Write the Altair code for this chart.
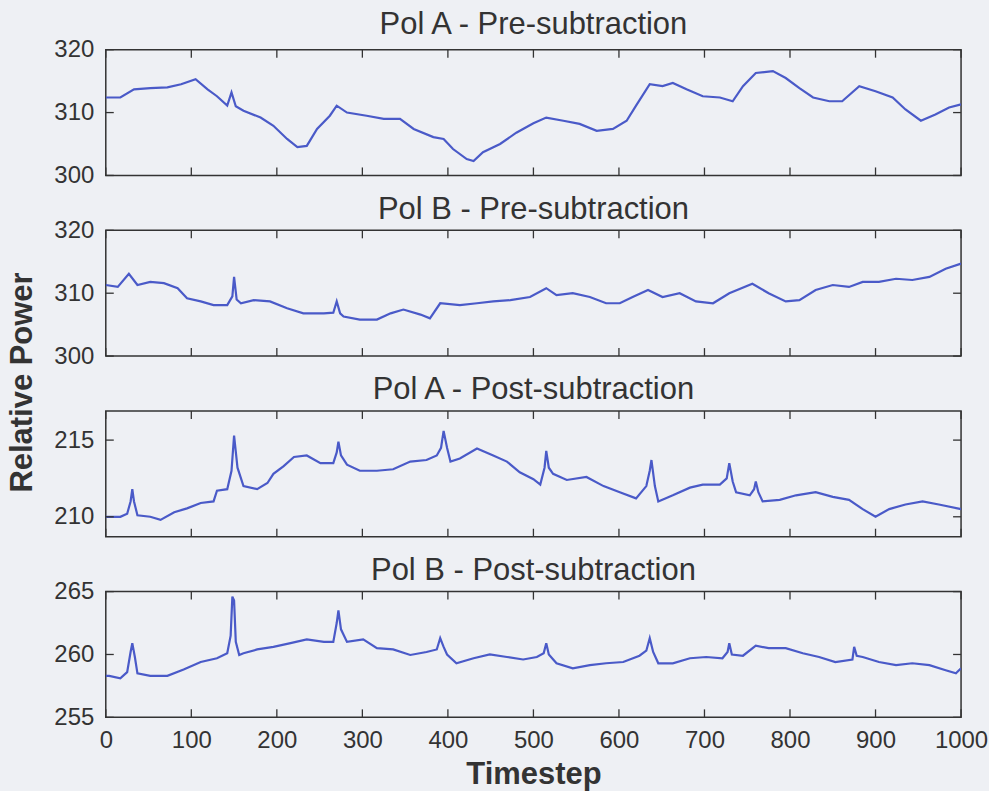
import altair as alt
import pandas as pd

# ---------------- data ----------------
pa_pre_t = [0, 17, 33, 52, 72, 88, 105, 119, 130, 142, 147, 152, 161, 181, 196, 212, 224, 235, 247, 262,
            270, 282, 305, 325, 344, 360, 383, 395, 406, 422, 430, 441, 461, 480, 500, 515, 535, 554, 574, 593,
            609, 620, 636, 651, 663, 679, 698, 718, 733, 745, 760, 780, 795, 811, 827, 846, 861, 881, 900, 920,
            935, 953, 970, 986, 1000]
pa_pre_v = [312.4, 312.4, 313.7, 313.9, 314.0, 314.5, 315.3, 313.7, 312.6, 311.1, 313.2, 311.0, 310.3, 309.2, 307.9, 305.8, 304.5, 304.7, 307.4, 309.5,
            311.1, 310.0, 309.5, 309.0, 309.0, 307.4, 306.1, 305.8, 304.2, 302.6, 302.3, 303.7, 305.0, 306.8, 308.3, 309.2, 308.7, 308.2, 307.1, 307.4,
            308.7, 311.1, 314.5, 314.2, 314.7, 313.7, 312.6, 312.4, 311.8, 314.2, 316.3, 316.6, 315.5, 313.9, 312.4, 311.8, 311.8, 314.2, 313.4, 312.4,
            310.5, 308.7, 309.7, 310.8, 311.3]

pb_pre_t = [0, 14, 27, 37, 52, 68, 84, 95, 111, 126, 142, 148, 150, 153, 158, 173, 192, 212, 231, 255,
            266, 270, 274, 278, 297, 317, 333, 348, 368, 379, 391, 414, 434, 453, 473, 496, 515, 527, 546, 566,
            585, 601, 616, 634, 651, 671, 690, 710, 729, 756, 775, 795, 811, 830, 850, 869, 885, 904, 924, 943,
            963, 982, 1000]
pb_pre_v = [311.3, 311.0, 313.1, 311.3, 311.8, 311.6, 310.8, 309.2, 308.7, 308.1, 308.1, 309.5, 312.6, 309.0, 308.4, 308.9, 308.7, 307.6, 306.8, 306.8,
            306.9, 308.7, 306.8, 306.3, 305.8, 305.8, 306.8, 307.4, 306.6, 306.0, 308.4, 308.1, 308.4, 308.7, 308.9, 309.4, 310.8, 309.7, 310.0, 309.4,
            308.4, 308.4, 309.4, 310.5, 309.4, 310.0, 308.7, 308.4, 310.0, 311.5, 310.0, 308.7, 308.9, 310.5, 311.3, 311.0, 311.8, 311.8, 312.3, 312.1,
            312.6, 313.9, 314.7]

pa_post_t = [0, 4, 17, 25, 29, 31, 33, 37, 52, 64, 80, 95, 111, 126, 130, 142, 147, 150, 154, 161,
             177, 189, 196, 208, 220, 235, 251, 266, 270, 272, 275, 282, 297, 317, 336, 356, 375, 387, 392, 395,
             399, 403, 414, 434, 453, 469, 484, 500, 508, 513, 515, 518, 523, 539, 562, 582, 601, 620, 632, 636,
             638, 642, 646, 663, 683, 698, 718, 726, 729, 733, 737, 753, 758, 760, 763, 768, 788, 807, 830, 850,
             869, 885, 900, 916, 935, 955, 974, 1000]
pa_post_v = [210.0, 210.0, 210.0, 210.2, 211.0, 211.8, 211.0, 210.1, 210.0, 209.8, 210.3, 210.55, 210.9, 211.0, 211.7, 211.8, 213.0, 215.3, 213.2, 212.0,
             211.8, 212.2, 212.8, 213.3, 213.9, 214.0, 213.5, 213.5, 214.2, 214.9, 214.0, 213.4, 213.0, 213.0, 213.1, 213.6, 213.7, 214.0, 214.5, 215.6,
             214.5, 213.6, 213.8, 214.45, 214.0, 213.6, 212.9, 212.45, 212.1, 213.2, 214.3, 213.2, 212.8, 212.4, 212.6, 212.0, 211.6, 211.2, 212.0, 213.0,
             213.7, 212.0, 211.0, 211.4, 211.9, 212.1, 212.1, 212.5, 213.5, 212.3, 211.6, 211.4, 211.8, 212.3, 211.6, 211.0, 211.1, 211.4, 211.6, 211.3,
             211.1, 210.5, 210.0, 210.5, 210.8, 211.0, 210.8, 210.5]

pb_post_t = [0, 4, 17, 25, 29, 31, 34, 37, 52, 72, 91, 111, 130, 142, 146, 148, 150, 152, 156, 161,
             177, 196, 216, 235, 255, 266, 270, 272, 275, 282, 301, 317, 336, 356, 375, 387, 391, 395, 399, 410,
             430, 449, 469, 488, 504, 512, 515, 518, 527, 546, 566, 585, 605, 624, 632, 636, 640, 646, 663, 683,
             702, 721, 727, 729, 732, 745, 760, 775, 795, 815, 834, 853, 873, 875, 878, 885, 904, 924, 943, 963,
             982, 994, 1000]
pb_post_v = [258.3, 258.3, 258.1, 258.6, 260.2, 260.9, 259.8, 258.5, 258.3, 258.3, 258.8, 259.4, 259.7, 260.1, 261.5, 264.6, 264.3, 261.0, 259.96, 260.1,
             260.4, 260.6, 260.9, 261.2, 261.0, 261.0, 262.5, 263.5, 262.0, 261.0, 261.2, 260.5, 260.4, 259.96, 260.2, 260.4, 261.3, 260.6, 260.0, 259.3,
             259.7, 260.0, 259.8, 259.6, 259.8, 260.1, 260.9, 260.0, 259.3, 258.9, 259.15, 259.3, 259.4, 259.9, 260.3, 261.3, 260.2, 259.3, 259.3, 259.7,
             259.8, 259.7, 260.2, 260.9, 260.0, 259.9, 260.7, 260.5, 260.5, 260.1, 259.8, 259.4, 259.6, 260.6, 259.9, 259.8, 259.4, 259.15, 259.3, 259.15,
             258.75, 258.5, 258.9]

titles = ["Pol A - Pre-subtraction", "Pol B - Pre-subtraction",
          "Pol A - Post-subtraction", "Pol B - Post-subtraction"]
x_ticks = [0, 100, 200, 300, 400, 500, 600, 700, 800, 900, 1000]
y_ticks = [[300, 310, 320], [300, 310, 320], [210, 215], [255, 260, 265]]
y_domains = [[300, 320], [300, 320], [208.7, 216.9], [255, 265]]

for a, b in [(pa_pre_t, pa_pre_v), (pb_pre_t, pb_pre_v), (pa_post_t, pa_post_v), (pb_post_t, pb_post_v)]:
    assert len(a) == len(b)

# ---------------- styling ----------------
FONT = "Liberation Sans"
LINE = "#4a5ac8"
BG = "#eef0f4"
INK = "#333333"
W = 857
H = 126
TICK = 8
TITLE_OFFSETS = [-3, -8, 4, -7]


def panel(i, t, v):
    last = i == 3
    ax_kw = dict(values=x_ticks, ticks=False, domain=False, grid=False, format="d",
                 labels=last, labelFontSize=24, labelFont=FONT, labelColor=INK,
                 labelPadding=11, labelFlush=False)
    if last:
        ax_kw.update(title="Timestep", titleFontSize=31, titleFont=FONT, titleFontWeight="bold",
                     titleColor=INK, titlePadding=7)
    else:
        ax_kw.update(title=None)
    X = alt.X("t:Q", scale=alt.Scale(domain=[0, 1000], nice=False, zero=False), axis=alt.Axis(**ax_kw))

    ay_kw = dict(values=y_ticks[i], ticks=False, domain=False, grid=False,
                 labelFontSize=24, labelFont=FONT, labelColor=INK, labelPadding=12)
    if i == 1:
        ay_kw.update(title="Relative Power", titleFontSize=31, titleFont=FONT, titleFontWeight="bold",
                     titleColor=INK, titleAngle=270, titleX=-83, titleY=152,
                     titleAlign="center", titleBaseline="middle")
    else:
        ay_kw.update(title=None)
    Y = alt.Y("v:Q", scale=alt.Scale(domain=y_domains[i], nice=False, zero=False), axis=alt.Axis(**ay_kw))

    df = pd.DataFrame({"t": t, "v": v})
    xt = pd.DataFrame({"t": x_ticks})
    yt = pd.DataFrame({"v": y_ticks[i]})

    line = alt.Chart(df).mark_line(color=LINE, strokeWidth=2.2, clip=True).encode(x=X, y=Y)
    xtb = alt.Chart(xt).mark_rule(color=INK, strokeWidth=1.3).encode(
        x=X, y=alt.value(H), y2=alt.value(H - TICK))
    xtt = alt.Chart(xt).mark_rule(color=INK, strokeWidth=1.3).encode(
        x=X, y=alt.value(0), y2=alt.value(TICK))
    ytl = alt.Chart(yt).mark_rule(color=INK, strokeWidth=1.3).encode(
        y=Y, x=alt.value(0), x2=alt.value(TICK))
    ytr = alt.Chart(yt).mark_rule(color=INK, strokeWidth=1.3).encode(
        y=Y, x=alt.value(W), x2=alt.value(W - TICK))

    return alt.layer(line, xtb, xtt, ytl, ytr).properties(
        width=W, height=H,
        title=alt.TitleParams(titles[i], fontSize=31, font=FONT, fontWeight="normal",
                              color=INK, offset=TITLE_OFFSETS[i], frame="group"),
    )


series = [(pa_pre_t, pa_pre_v), (pb_pre_t, pb_pre_v), (pa_post_t, pa_post_v), (pb_post_t, pb_post_v)]
chart = alt.vconcat(*[panel(i, t, v) for i, (t, v) in enumerate(series)],
                    spacing=55, bounds="flush").properties(
    background=BG,
    padding={"left": 6, "top": 7, "right": 0, "bottom": 0},
).configure_view(
    stroke=INK, strokeWidth=1.5, fill=BG
)

chart.save("out.html", embed_options={"renderer": "svg", "actions": False})
